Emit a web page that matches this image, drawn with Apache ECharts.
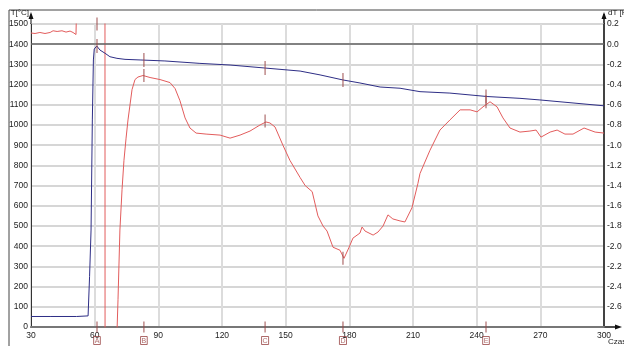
<!DOCTYPE html>
<html>
<head>
<meta charset="utf-8">
<script src="https://cdn.jsdelivr.net/npm/echarts@6/dist/echarts.min.js"></script>
<style>
  html, body { margin: 0; padding: 0; background: #fff; }
  #chart { width: 624px; height: 346px; }
</style>
</head>
<body>
<div id="chart"></div>
<script>
// Temperature curve T [°C] against time [s]
const tempTime = [30, 39, 51.5, 51.8, 56.9, 57.6, 58.3, 58.9, 59.4, 59.8, 61.0, 62.5, 64.9, 67.2, 70.5, 74.3, 81.4, 93.1, 109.6, 123.8, 140.3, 156.8, 166.2, 177.0, 185.0, 194.5, 203.9, 213.3, 227.4, 244.9, 260.4, 269.8, 300];
const tempValues = [52, 52, 52, 55, 55, 250, 480, 1025, 1322, 1376, 1391, 1371, 1355, 1338, 1330, 1325, 1322, 1317, 1305, 1297, 1282, 1267, 1248, 1223, 1208, 1188, 1182, 1165, 1158, 1141, 1132, 1124, 1095];

// Derivative curve dT [K] against time [s]
const diffTime = [30, 31.9, 34.2, 36.6, 39.0, 40.4, 42.3, 44.6, 46.5, 48.4, 49.8, 51.2, 51.7, 64.85, 64.9, 69.7, 71.0, 71.9, 72.9, 73.8, 74.8, 75.7, 77.6, 79.0, 80.4, 82.8, 86.1, 90.8, 95.5, 97.9, 100.2, 102.6, 104.9, 107.8, 112.5, 119.1, 123.8, 128.5, 133.2, 137.9, 140.7, 142.6, 145.0, 148.7, 152.0, 156.8, 159.2, 162.5, 165.2, 167.6, 169.5, 172.3, 175.6, 177.5, 179.9, 181.7, 185.0, 186.0, 187.4, 191.2, 193.5, 195.9, 198.2, 200.5, 203.9, 206.2, 209.5, 212.3, 213.3, 218.0, 222.7, 227.4, 232.2, 236.9, 240.2, 243.0, 246.3, 249.6, 252.4, 255.7, 260.4, 265.1, 268.0, 270.3, 274.6, 277.9, 281.6, 285.4, 290.6, 295.8, 300];
const diffValues = [0.111, 0.106, 0.116, 0.106, 0.116, 0.133, 0.126, 0.133, 0.120, 0.130, 0.116, 0.096, 0.6, 0.6, -3.4, -3.4, -2.53, -1.84, -1.44, -1.15, -0.93, -0.75, -0.45, -0.35, -0.325, -0.31, -0.33, -0.35, -0.38, -0.44, -0.56, -0.73, -0.83, -0.88, -0.89, -0.90, -0.93, -0.90, -0.86, -0.80, -0.77, -0.78, -0.82, -1.00, -1.15, -1.32, -1.40, -1.46, -1.70, -1.80, -1.85, -2.01, -2.04, -2.12, -2.01, -1.92, -1.87, -1.81, -1.85, -1.89, -1.86, -1.80, -1.69, -1.73, -1.75, -1.76, -1.62, -1.38, -1.28, -1.05, -0.85, -0.75, -0.65, -0.65, -0.67, -0.62, -0.57, -0.62, -0.73, -0.83, -0.87, -0.86, -0.85, -0.92, -0.87, -0.85, -0.89, -0.89, -0.83, -0.87, -0.88];

// Characteristic points
const markerLetters = ['A', 'B', 'C', 'D', 'E'];
const markerTimes = [61.1, 83.2, 140.3, 177.0, 244.4];
const markerTemp = [1391, 1322, 1282, 1223, 1141];
const markerDiff = [0.2, -0.31, -0.76, -2.12, -0.57];

const pair = (xs, ys) => xs.map((x, i) => [x, ys[i]]);

const G = { left: 31, right: 20, top: 24, bottom: 19 };
const W = 624, H = 346;
const plotRight = W - G.right, plotBottom = H - G.bottom;

const FONT = "'Liberation Sans', Arial, sans-serif";
const MARK = '#9a4646';

const chart = echarts.init(document.getElementById('chart'), null, { renderer: 'canvas' });

chart.setOption({
  animation: false,
  backgroundColor: '#ffffff',
  textStyle: { fontFamily: FONT },
  grid: { left: G.left, right: G.right, top: G.top, bottom: G.bottom,
          containLabel: false, outerBoundsMode: 'none',
          show: true, borderColor: '#666', borderWidth: 1.5, backgroundColor: 'transparent' },
  xAxis: {
    type: 'value', min: 30, max: 300, interval: 30,
    name: 'Czas [s]', nameLocation: 'end', nameGap: 4, nameMoveOverlap: false,
    nameTextStyle: { fontSize: 8, color: '#222', align: 'left', verticalAlign: 'top', padding: [11, 0, 0, 0] },
    axisLine: { show: true, onZero: false, lineStyle: { color: '#777', width: 2 } },
    axisTick: { show: false },
    axisLabel: { fontSize: 8.5, color: '#222', margin: 4, formatter: v => String(v) },
    splitLine: { show: true, lineStyle: { color: '#dcdcdc', width: 2 } }
  },
  yAxis: [{
    type: 'value', min: 0, max: 1500, interval: 100, position: 'left',
    name: 'T[°C]', nameLocation: 'end', nameGap: 7, nameMoveOverlap: false,
    nameTextStyle: { fontSize: 8, color: '#222', align: 'right', padding: [0, 2, 0, 0] },
    axisLine: { show: true, onZero: false, lineStyle: { color: '#333', width: 1 } },
    axisTick: { show: false },
    axisLabel: { fontSize: 8.5, color: '#222', margin: 3, formatter: v => String(v) },
    splitLine: { show: true, lineStyle: { color: '#d6d6d6', width: 2 } }
  }, {
    type: 'value', min: -2.8, max: 0.2, interval: 0.2, position: 'right',
    name: 'dT [K]', nameLocation: 'end', nameGap: 7, nameMoveOverlap: false,
    nameTextStyle: { fontSize: 8, color: '#222', align: 'left', padding: [0, 0, 0, 4] },
    axisLine: { show: true, onZero: false, lineStyle: { color: '#111', width: 1.5 } },
    axisTick: { show: false },
    axisLabel: { fontSize: 8.5, color: '#222', margin: 3, showMinLabel: false,
                 formatter: v => (Math.abs(v) < 1e-9 ? 0 : v).toFixed(1) },
    splitLine: { show: false }
  }],
  series: [
    {
      name: 'dT', type: 'line', yAxisIndex: 1, data: pair(diffTime, diffValues),
      showSymbol: false, clip: true, z: 3,
      lineStyle: { color: '#e25c5c', width: 1 },
      markLine: {
        silent: true, symbol: 'none', label: { show: false },
        lineStyle: { color: '#666', width: 1.5, type: 'solid' },
        data: [{ yAxis: 0 }]
      }
    },
    {
      name: 'T', type: 'line', yAxisIndex: 0, data: pair(tempTime, tempValues),
      showSymbol: false, clip: true, z: 4,
      lineStyle: { color: '#2e2e86', width: 1 }
    },
    {
      name: 'markT', type: 'scatter', yAxisIndex: 0, z: 6, silent: true,
      data: pair(markerTimes, markerTemp),
      symbol: 'rect', symbolSize: [1.2, 14], itemStyle: { color: MARK }
    },
    {
      name: 'markDT', type: 'scatter', yAxisIndex: 1, z: 6, silent: true, clip: false,
      data: pair(markerTimes, markerDiff),
      symbol: 'rect', symbolSize: [1.2, 13], itemStyle: { color: MARK }
    },
    {
      name: 'markAxis', type: 'scatter', yAxisIndex: 0, z: 6, silent: true, clip: false,
      data: markerTimes.map(t => [t, 0]),
      symbol: 'rect', symbolSize: [1.2, 11], itemStyle: { color: MARK },
      label: {
        show: true, position: 'bottom', distance: 4,
        formatter: p => markerLetters[p.dataIndex],
        fontSize: 7, color: MARK, borderColor: MARK, borderWidth: 1,
        padding: [1, 1, 0, 1], lineHeight: 7
      }
    }
  ],
  graphic: [
    // outer frame
    { type: 'line', silent: true, shape: { x1: 9, y1: 10, x2: W, y2: 10 }, style: { stroke: '#444', lineWidth: 1 } },
    { type: 'line', silent: true, shape: { x1: 9, y1: 10, x2: 9, y2: H }, style: { stroke: '#444', lineWidth: 1 } },
    // axis extensions with arrow heads
    { type: 'line', silent: true, shape: { x1: G.left, y1: G.top, x2: G.left, y2: 14 }, style: { stroke: '#111', lineWidth: 1 } },
    { type: 'polygon', silent: true, shape: { points: [[G.left - 2.5, 19], [G.left + 2.5, 19], [G.left, 12]] }, style: { fill: '#111' } },
    { type: 'line', silent: true, shape: { x1: plotRight, y1: G.top, x2: plotRight, y2: 14 }, style: { stroke: '#111', lineWidth: 1.5 } },
    { type: 'polygon', silent: true, shape: { points: [[plotRight - 2.5, 19], [plotRight + 2.5, 19], [plotRight, 12]] }, style: { fill: '#111' } },
    { type: 'line', silent: true, shape: { x1: plotRight, y1: plotBottom, x2: 616, y2: plotBottom }, style: { stroke: '#111', lineWidth: 1.5 } },
    { type: 'polygon', silent: true, shape: { points: [[615, plotBottom - 2.5], [615, plotBottom + 2.5], [622, plotBottom]] }, style: { fill: '#111' } }
  ]
});
</script>
</body>
</html>
